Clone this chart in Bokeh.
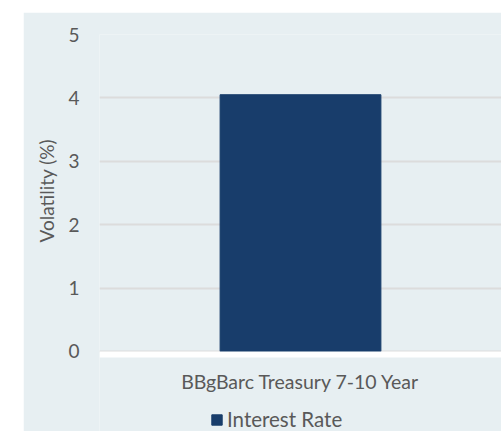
from bokeh.plotting import figure
from bokeh.models import Legend, LegendItem, FixedTicker, Spacer, Range1d, FactorRange, Title
from bokeh.layouts import column, row
from bokeh.embed import file_html
from bokeh.resources import INLINE

categories = ["BBgBarc Treasury 7-10 Year"]
interest_rate = [4.05]
y_ticks = [0, 1, 2, 3, 4, 5]
series_name = "Interest Rate"
y_label = "Volatility (%)"

BG = "#e7eff2"
TXT = "#595959"
FONT = "Lato"

p = figure(x_range=FactorRange(*categories), y_range=Range1d(-1.262, 5),
           width=478, height=419, output_backend="svg", toolbar_location=None,
           min_border_left=76, min_border_right=0, min_border_top=22, min_border_bottom=0,
           background_fill_color=BG, border_fill_color=BG)
p.outline_line_color = None

r = p.vbar(x=categories, top=interest_rate, width=0.4, color="#183d6b")

p.xgrid.grid_line_color = None
p.ygrid.grid_line_color = "#dcdcdc"
p.ygrid.grid_line_width = 2
p.yaxis.ticker = FixedTicker(ticks=y_ticks)

for ax in (p.xaxis[0], p.yaxis[0]):
    ax.major_tick_line_color = None
    ax.minor_tick_line_color = None
    ax.major_tick_out = 0
    ax.major_tick_in = 0
    ax.major_label_text_font = FONT
    ax.major_label_text_font_size = "19px"
    ax.major_label_text_color = TXT

p.yaxis.axis_line_color = None
p.yaxis.major_label_standoff = 20

# y-axis title, centred on the 0..5 part of the axis
ytitle = Title(text=y_label, align="left", offset=189, standoff=15,
               text_font=FONT, text_font_size="19px", text_font_style="normal",
               text_color=TXT)
p.add_layout(ytitle, "left")

p.xaxis.fixed_location = -0.047
p.xaxis.axis_line_color = "white"
p.xaxis.axis_line_width = 6
p.xaxis.major_label_standoff = 16
p.xaxis.major_label_text_font_size = "19.5px"

legend = Legend(items=[LegendItem(label=series_name, renderers=[r])], location=(111, 0),
                orientation="horizontal", background_fill_alpha=0, border_line_color=None,
                padding=0, margin=0, glyph_width=13, glyph_height=13, label_standoff=4,
                label_text_font=FONT, label_text_font_size="20.5px", label_text_color=TXT)
p.add_layout(legend, "center")

layout = column(Spacer(height=12), row(Spacer(width=23), p))
open("out.html", "w").write(file_html(layout, INLINE))
